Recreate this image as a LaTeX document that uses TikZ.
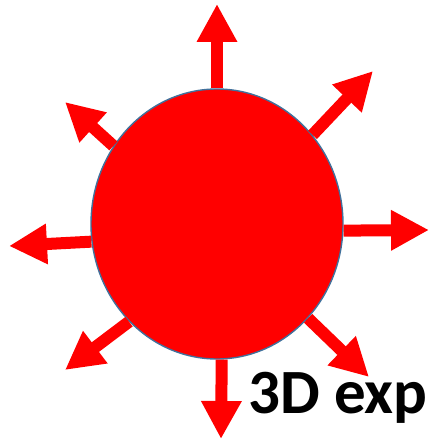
\documentclass[tikz,border=0pt]{standalone}
\usepackage{fontspec}
\setmainfont{Carlito}
\usepackage{tikz}
\usetikzlibrary{shapes.geometric, arrows.meta}
\definecolor{BlobRed}{RGB}{255, 0, 0}
\definecolor{EdgeBlue}{RGB}{65, 113, 156}

\begin{document}
\begin{tikzpicture}[
    x=1pt, y=1pt,
    blob/.style={ellipse, draw=EdgeBlue, line width=1.4pt, fill=BlobRed, minimum width=252pt, minimum height=270pt, inner sep=0pt},
    ray/.style={-{Triangle[length=38pt, width=38pt]}, line width=12pt, BlobRed},
    tagtext/.style={font=\fontsize{63}{63}\selectfont\bfseries, text=black, inner sep=0pt, anchor=base west}
  ]
    \useasboundingbox (0, 0) rectangle (431, 440);
    \clip (0, 0) rectangle (431, 440);

    % Cell
    \node[blob] (cell) at (217, 216) {};

    % Tips of the rays
    \coordinate (tN)  at (217, 436);
    \coordinate (tNE) at (373, 369);
    \coordinate (tE)  at (429, 210);
    \coordinate (tSE) at (369, 63);
    \coordinate (tS)  at (221, 1);
    \coordinate (tSW) at (65, 70);
    \coordinate (tW)  at (9, 194);
    \coordinate (tNW) at (65, 338);

    % Rays: border angle / tip
    \foreach \a/\t in {90/tN, 43/tNE, -3/tE, -46/tSE, -88/tS, 228/tSW, 188/tW, 143/tNW} {
      \draw[ray] (cell.\a) -- (\t);
    }

    % Text
    \node[tagtext] (txt) at (248, 27) {3D exp};
  \end{tikzpicture}
\end{document}
